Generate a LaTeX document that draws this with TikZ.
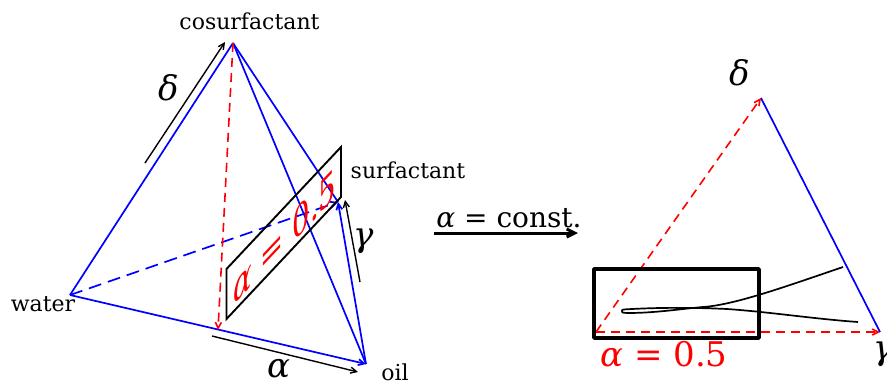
\documentclass[tikz,border=0pt]{standalone}
\usepackage{fontspec}
\setmainfont{DejaVu Serif}
\usetikzlibrary{arrows.meta}
\tikzset{
  edgeblue/.style={blue,line width=1.7pt},
  edgered/.style={red,line width=1.6pt,dash pattern=on 9pt off 6pt},
  tip/.style={-{Straight Barb[length=6pt,width=6pt]}},
  dim/.style={black,line width=1.4pt,tip},
  planeline/.style={black,line width=1.9pt},
  lab/.style={inner sep=0pt,font=\fontsize{22}{22}\selectfont},
  greek/.style={inner sep=0pt,font=\fontsize{34}{34}\selectfont\itshape},
  big/.style={inner sep=0pt,font=\fontsize{28}{28}\selectfont},
}
\begin{document}
\begin{tikzpicture}[x=1pt,y=-1pt]
\useasboundingbox (0,0) rectangle (887,381);
\coordinate (A) at (233,43);
\coordinate (W) at (70,295);
\coordinate (O) at (366,364);
\coordinate (S) at (338,202);
\coordinate (M) at (218,330);
\coordinate (P1) at (226.5,269);
\coordinate (P2) at (341,147);
\coordinate (P3) at (341,197);
\coordinate (P4) at (226.5,319);
\draw[edgeblue] (A) -- (W);
\draw[edgeblue] (A) -- (O);
\draw[edgeblue] (A) -- (S);
\draw[edgeblue,tip] (W) -- (O);
\draw[edgeblue,tip] (O) -- (S);
\draw[edgeblue,tip,dash pattern=on 13pt off 7pt] (W) -- (S);
\draw[edgered,tip] (A) -- (M);
\node[red,cm={0.687,0.727,0,1.05,(285,236)},inner sep=0pt,font=\fontsize{40}{40}\selectfont] (pl) at (0,0) {\itshape α \upshape= 0.5};
\draw[planeline] (P1) -- (P2) -- (P3) -- (P4) -- cycle;
\coordinate (d1) at (145,163); \coordinate (d2) at (225,42);
\coordinate (a1) at (212,336); \coordinate (a2) at (358,372);
\coordinate (g1) at (360,282); \coordinate (g2) at (345,200);
\draw[dim] (d1) -- (d2);
\draw[dim] (a1) -- (a2);
\draw[dim] (g1) -- (g2);
\node[lab] (cos) at (249.5,21) {cosurfactant};
\node[lab] (sur) at (408,170) {surfactant};
\node[lab] (wat) at (43,304) {water};
\node[lab] (oil) at (395,372) {oil};
\node[greek] (del) at (169,88) {δ};
\node[greek] (alp) at (279,369) {α};
\node[greek] (gam) at (364,241) {γ};
\node[big] (con) at (509,218) {\itshape α \upshape= const.};
\coordinate (c1) at (434,233); \coordinate (c2) at (578,233);
\draw[line width=3pt,-{Straight Barb[length=8pt,width=8pt]}] (c1) -- (c2);
% right triangle
\coordinate (T) at (761,98);
\coordinate (L) at (596,332);
\coordinate (R) at (880,332);
\draw[edgeblue] (T) -- (R);
\draw[edgered,tip] (L) -- (T);
\draw[edgered,tip] (L) -- (R);
\draw[line width=3.8pt,line join=round] (594,269) rectangle (759,338);
\coordinate (u0) at (843,267);
\coordinate (l0) at (858,322);
\coordinate (tp) at (622,311);
\draw[line width=1.7pt,line join=round] (u0) .. controls (790,285) and (735,305) .. (703,307)
  .. controls (680,309) and (655,313) .. (628,313)
  .. controls (622,313) and (621,312) .. (tp)
  .. controls (621,309) and (625,309.5) .. (632,309)
  .. controls (670,307) and (705,308) .. (727,309)
  .. controls (770,312) and (815,319) .. (l0);
\node[red,inner sep=0pt,font=\fontsize{34}{34}\selectfont] (al) at (664,354) {\itshape α \upshape= 0.5};
\node[greek] (dd) at (740,73) {δ};
\node[greek] (gg) at (884,354) {γ};
\end{tikzpicture}
\end{document}
